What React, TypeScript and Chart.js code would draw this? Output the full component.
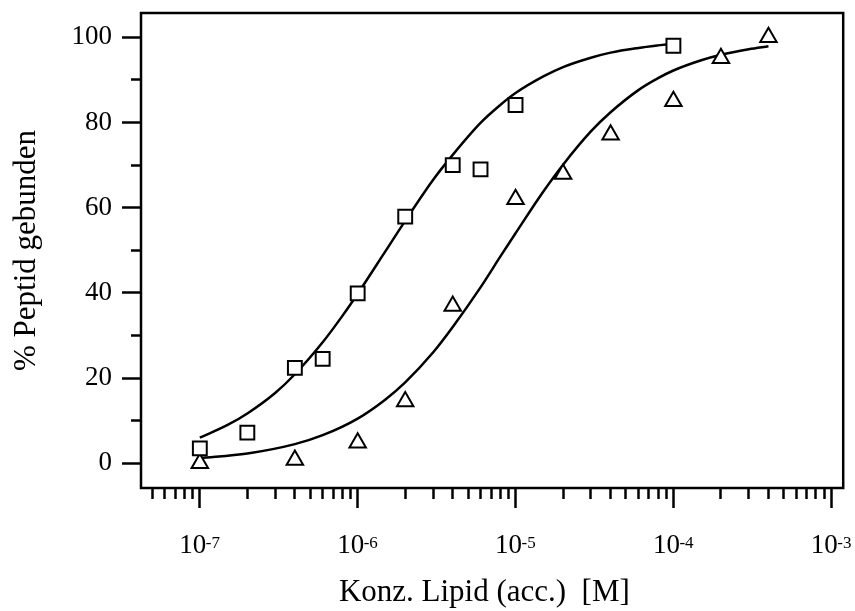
import React, { useEffect, useRef } from 'react';
import { Chart, registerables } from 'chart.js';

Chart.register(...registerables);

// ---- data ----
const squareX = [1e-7, 2e-7, 4e-7, 6e-7, 1e-6, 2e-6, 4e-6, 6e-6, 1e-5, 1e-4];
const squareY = [3.5, 7.2, 22.4, 24.5, 39.9, 57.9, 70.0, 69.0, 84.1, 98.0];

const triangleX = [1e-7, 4e-7, 1e-6, 2e-6, 4e-6, 1e-5, 2e-5, 4e-5, 1e-4, 2e-4, 4e-4];
const triangleY = [0.0, 0.8, 4.8, 14.5, 36.9, 62.0, 67.9, 77.1, 85.0, 95.1, 100.0];

const squareFitX = [1e-7, 1.5e-7, 2e-7, 3e-7, 4e-7, 6e-7, 8e-7, 1e-6, 1.5e-6, 2e-6, 3e-6, 4e-6, 6e-6, 8e-6, 1e-5, 1.5e-5, 2e-5, 3e-5, 4e-5, 6e-5, 8e-5, 1e-4];
const squareFitY = [6.0, 9.0, 11.7, 16.5, 20.9, 28.4, 34.6, 39.8, 49.8, 56.9, 66.5, 72.4, 79.9, 84.1, 86.9, 90.8, 93.0, 95.2, 96.4, 97.5, 98.1, 98.5];

const triangleFitX = [1e-7, 2e-7, 4e-7, 6e-7, 1e-6, 1.5e-6, 2e-6, 3e-6, 4e-6, 6e-6, 8e-6, 1e-5, 1.5e-5, 2e-5, 3e-5, 4e-5, 6e-5, 8e-5, 1e-4, 1.5e-4, 2e-4, 3e-4, 4e-4];
const triangleFitY = [1.2, 2.3, 4.5, 6.6, 10.5, 15.0, 19.0, 26.0, 32.0, 41.3, 48.5, 54.0, 63.8, 70.1, 77.9, 82.4, 87.6, 90.4, 92.2, 94.6, 95.9, 97.2, 97.9];

// ---- ticks & labels ----
const xMajorTicks = [1e-7, 1e-6, 1e-5, 1e-4, 1e-3];
const xTickBase = '10';
const xTickExponents = ['-7', '-6', '-5', '-4', '-3'];
const xMinorTicks = [
  5e-8, 6e-8, 7e-8, 8e-8, 9e-8,
  2e-7, 3e-7, 4e-7, 5e-7, 6e-7, 7e-7, 8e-7, 9e-7,
  2e-6, 3e-6, 4e-6, 5e-6, 6e-6, 7e-6, 8e-6, 9e-6,
  2e-5, 3e-5, 4e-5, 5e-5, 6e-5, 7e-5, 8e-5, 9e-5,
  2e-4, 3e-4, 4e-4, 5e-4, 6e-4, 7e-4, 8e-4, 9e-4,
];
const yMajorTicks = [0, 20, 40, 60, 80, 100];
const yMinorTicks = [10, 30, 50, 70, 90];

const xTitle = 'Konz. Lipid (acc.)  [M]';
const yTitle = '% Peptid gebunden';

const X_MIN = 4.24e-8;
const X_MAX = 1.19e-3;
const Y_MIN = -5.8;
const Y_MAX = 105.7;

const FONT = "'Liberation Serif', 'Times New Roman', Times, serif";

export default function App() {
  const ref = useRef<HTMLCanvasElement>(null);

  useEffect(() => {
    const canvas = ref.current;
    if (!canvas) return;

    const framePlugin = {
      id: 'frame',
      beforeDatasetsDraw(chart: any) {
        const { ctx, chartArea } = chart;
        ctx.save();
        ctx.strokeStyle = '#000';
        ctx.lineWidth = 2.5;
        ctx.strokeRect(chartArea.left, chartArea.top, chartArea.right - chartArea.left, chartArea.bottom - chartArea.top);
        ctx.restore();
      },
    };

    const exponentPlugin = {
      id: 'exponents',
      afterDraw(chart: any) {
        const sc = chart.scales.x;
        const ctx = chart.ctx;
        ctx.save();
        ctx.font = `17px ${FONT}`;
        ctx.fillStyle = '#000';
        ctx.textAlign = 'left';
        ctx.textBaseline = 'alphabetic';
        xMajorTicks.forEach((v, i) => {
          const px = sc.getPixelForValue(v);
          ctx.fillText(xTickExponents[i], px + 6, sc.top + 60);
        });
        ctx.restore();
      },
    };

    const tickGrid = (len: number) => ({
      display: true,
      drawOnChartArea: false,
      drawTicks: true,
      tickLength: len,
      tickWidth: 2.5,
      tickColor: '#000',
    });

    const noPad = (s: any) => {
      s.paddingTop = 0;
      s.paddingBottom = 0;
      s.paddingLeft = 0;
      s.paddingRight = 0;
    };

    const chart = new Chart(canvas, {
      type: 'scatter',
      data: {
        datasets: [
          {
            label: 'squares',
            data: squareX.map((x, i) => ({ x, y: squareY[i] })),
            showLine: false,
            pointStyle: 'rect',
            pointRadius: 9.8,
            pointBorderWidth: 2,
            pointBorderColor: '#000',
            pointBackgroundColor: '#fff',
            xAxisID: 'x',
            yAxisID: 'y',
            order: 0,
          },
          {
            label: 'triangles',
            data: triangleX.map((x, i) => ({ x, y: triangleY[i] })),
            showLine: false,
            pointStyle: 'triangle',
            pointRadius: 9.5,
            pointBorderWidth: 2,
            pointBorderColor: '#000',
            pointBackgroundColor: '#fff',
            xAxisID: 'x',
            yAxisID: 'y',
            order: 1,
          },
          {
            label: 'squareFit',
            data: squareFitX.map((x, i) => ({ x, y: squareFitY[i] })),
            showLine: true,
            pointRadius: 0,
            borderColor: '#000',
            borderWidth: 2.5,
            cubicInterpolationMode: 'monotone',
            fill: false,
            xAxisID: 'x',
            yAxisID: 'y',
            order: 2,
          },
          {
            label: 'triangleFit',
            data: triangleFitX.map((x, i) => ({ x, y: triangleFitY[i] })),
            showLine: true,
            pointRadius: 0,
            borderColor: '#000',
            borderWidth: 2.5,
            cubicInterpolationMode: 'monotone',
            fill: false,
            xAxisID: 'x',
            yAxisID: 'y',
            order: 3,
          },
        ] as any,
      },
      options: {
        animation: false,
        responsive: false,
        devicePixelRatio: 1,
        layout: { padding: { left: 0, right: 10, top: 13, bottom: 0 } },
        plugins: {
          legend: { display: false },
          tooltip: { enabled: false },
        },
        scales: {
          x: {
            type: 'logarithmic',
            position: 'bottom',
            min: X_MIN,
            max: X_MAX,
            bounds: 'data',
            afterBuildTicks: (s: any) => {
              s.ticks = xMajorTicks.map((v) => ({ value: v }));
            },
            afterFit: (s: any) => {
              s.height = 123;
              noPad(s);
            },
            grid: tickGrid(20),
            border: { display: false },
            ticks: {
              callback: () => xTickBase,
              font: { size: 27, family: FONT },
              color: '#000',
              padding: 22,
              labelOffset: -7,
              maxRotation: 0,
              autoSkip: false,
            },
            title: {
              display: true,
              text: xTitle + '  ',
              font: { size: 31, family: FONT },
              color: '#000',
              padding: { top: 0, bottom: 0 },
            },
          },
          x2: {
            type: 'logarithmic',
            position: { y: Y_MIN },
            min: X_MIN,
            max: X_MAX,
            bounds: 'data',
            afterBuildTicks: (s: any) => {
              s.ticks = xMinorTicks.map((v) => ({ value: v }));
            },
            afterFit: noPad,
            grid: tickGrid(11),
            border: { display: false },
            ticks: { display: false },
          },
          y: {
            type: 'linear',
            position: 'left',
            min: Y_MIN,
            max: Y_MAX,
            bounds: 'data',
            afterBuildTicks: (s: any) => {
              s.ticks = yMajorTicks.map((v) => ({ value: v }));
            },
            afterFit: (s: any) => {
              s.width = 141;
              noPad(s);
            },
            grid: tickGrid(19),
            border: { display: false },
            ticks: {
              callback: (v: any) => String(v),
              font: { size: 27, family: FONT },
              color: '#000',
              padding: 10,
              autoSkip: false,
            },
            title: {
              display: true,
              text: yTitle,
              font: { size: 31, family: FONT },
              color: '#000',
              padding: { top: 8, bottom: 0 },
            },
          },
          y2: {
            type: 'linear',
            position: { x: X_MIN },
            min: Y_MIN,
            max: Y_MAX,
            bounds: 'data',
            afterBuildTicks: (s: any) => {
              s.ticks = yMinorTicks.map((v) => ({ value: v }));
            },
            afterFit: noPad,
            grid: tickGrid(10),
            border: { display: false },
            ticks: { display: false },
          },
        } as any,
      },
      plugins: [framePlugin, exponentPlugin],
    } as any);

    return () => chart.destroy();
  }, []);

  return (
    <div style={{ position: 'absolute', left: 0, top: 0, width: 855, height: 611, background: '#fff' }}>
      <canvas ref={ref} width={855} height={611} style={{ display: 'block' }} />
    </div>
  );
}
